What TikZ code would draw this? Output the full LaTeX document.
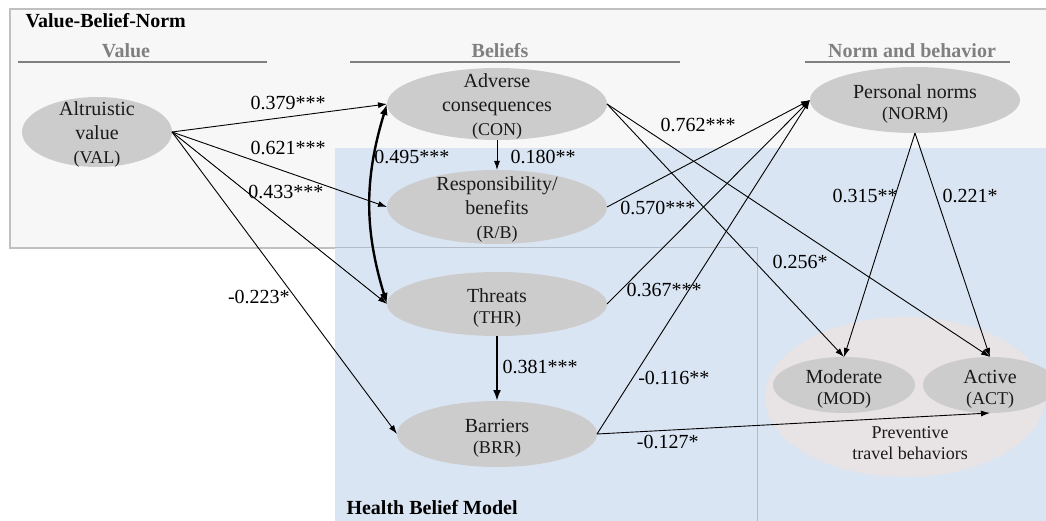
\documentclass[tikz,border=0pt]{standalone}
\usepackage{fontspec}
\setmainfont{Liberation Serif}
\usepackage{xcolor}
\usepackage{tikz}
\usetikzlibrary{positioning}
\usetikzlibrary{arrows.meta}
\usetikzlibrary{shapes.geometric}

\definecolor{vbnfill}{HTML}{F7F7F7}
\definecolor{vbnline}{HTML}{C0C0C0}
\definecolor{hbmfill}{HTML}{DAE5F3}
\definecolor{hbmline}{HTML}{B4BCC8}
\definecolor{ovalgray}{HTML}{CCCCCC}
\definecolor{ptbfill}{HTML}{E8E3E4}
\definecolor{headgray}{HTML}{808080}
\definecolor{textdark}{HTML}{1A1A1A}

\tikzset{conn/.style = {->, >={Latex[length=9pt,width=6pt]}, line width=0.9pt}}
\tikzset{bold conn/.style = {line width=2.4pt, >={Latex[length=11pt,width=8pt]}}}

% text inside the ellipses, kept out of the shape size
\newcommand{\ovaltext}[1]{\makebox[0pt]{\smash{\raisebox{-8pt}{\begin{tabular}{@{}c@{}}#1\end{tabular}}}}}
\newcommand{\abbr}[1]{{\fontsize{18}{24}\selectfont #1}}

\begin{document}
\begin{tikzpicture}[x=1pt,y=-1pt,
    oval/.style={ellipse,fill=ovalgray,inner sep=0pt,outer sep=0pt,text=textdark,font=\fontsize{20}{24}\selectfont},
    coef/.style={inner sep=1pt,text=black,font=\fontsize{20}{24}\selectfont},
    head/.style={anchor=base,text=headgray,font=\bfseries\fontsize{20}{24}\selectfont},
    headline/.style={headgray,line width=2pt}]
\useasboundingbox (0,0) rectangle (1046,521);

% frames
\fill[vbnfill] (10,9) rectangle (1046,248);
\fill[hbmfill] (335,148) rectangle (1046,521);
\draw[vbnline,line width=1.2pt] (1046,9) -- (10,9) -- (10,248) -- (335,248);
\draw[hbmline,line width=1pt] (335,248) -- (757,248) -- (757,521);

% headings
\node[anchor=base west,font=\bfseries\fontsize{20}{24}\selectfont] (vbn) at (22,28) {Value-Belief-Norm};
\node[head] (valhd) at (126,58) {Value};
\node[head] (belhd) at (500,58) {Beliefs};
\node[head] (norhd) at (912,58) {Norm and behavior};
\draw[headline] (18,62) -- (267,62);
\draw[headline] (350,62) -- (680,62);
\draw[headline] (805,62) -- (1010,62);
\node[anchor=base west,font=\bfseries\fontsize{20}{24}\selectfont] (hbm) at (343,514) {Health Belief Model};

% behaviour group
\node[ellipse,fill=ptbfill,minimum width=280pt,minimum height=160pt,inner sep=0pt] (ptb) at (905,397) {};
\node[align=center,text=textdark,font=\fontsize{18}{21}\selectfont] (ptbtxt) at (910,443) {Preventive\\travel behaviors};

% constructs
\node[oval,minimum width=150pt,minimum height=70pt] (val) at (97,132) {\ovaltext{Altruistic\\value\\\abbr{(VAL)}}};
\node[oval,minimum width=220pt,minimum height=72pt] (con) at (497,104) {\ovaltext{Adverse\\consequences\\\abbr{(CON)}}};
\node[oval,minimum width=220pt,minimum height=74pt] (rb) [below=30pt of con] {\ovaltext{Responsibility/\\benefits\\\abbr{(R/B)}}};
\node[oval,minimum width=220pt,minimum height=64pt] (thr) [below=28pt of rb] {\ovaltext{\raisebox{-3pt}{Threats}\\\abbr{(THR)}}};
\node[oval,minimum width=200pt,minimum height=66pt] (brr) [below=65pt of thr] {\ovaltext{\raisebox{-3pt}{Barriers}\\\abbr{(BRR)}}};
\node[oval,minimum width=210pt,minimum height=66pt] (norm) at (915,100) {\ovaltext{\raisebox{-3pt}{Personal norms}\\\abbr{(NORM)}}};
\node[oval,minimum width=142pt,minimum height=56pt] (mod) at (844,385) {\ovaltext{\raisebox{-3pt}{Moderate}\\\abbr{(MOD)}}};
\node[oval,minimum width=134pt,minimum height=56pt] (act) [right=8pt of mod] {\ovaltext{\raisebox{-3pt}{Active}\\\abbr{(ACT)}}};

\path[conn,every node/.style={coef}]
    (val.east) edge node[pos=.54,shift={(0,-14)}] {0.379***} (con.west)
    (val.east) edge node[pos=.54,shift={(0,-25)}] {0.621***} (rb.west)
    (val.east) edge node[pos=.53,shift={(0,-31)}] {0.433***} (thr.west)
    (val.east) edge node[pos=.546,shift={(-36,0)}] {-0.223*} (brr.west)
    (con.west) edge[<->,bold conn,bend right=17] node[pos=.5,shift={(42,-47)}] {0.495***} (thr.west)
    (con.south) edge node[pos=.5,shift={(46,2)}] {0.180**} (rb.north)
    (thr.south) edge[bold conn] node[pos=.5,shift={(43,-2)}] {0.381***} (brr.north)
    (rb.east) edge node[pos=.251,shift={(0,28)}] {0.570***} (norm.west)
    (thr.east) edge node[pos=.069,shift={(43,0)}] {0.367***} (norm.west)
    (brr.east) edge node[pos=.168,shift={(41,0)}] {-0.116**} (norm.west)
    (con.east) edge node[pos=.384,shift={(0,-76)}] {0.762***} (mod.north)
    (con.east) edge node[pos=.504,shift={(0,30)}] {0.256*} (act.north)
    (norm.south) edge node[pos=.28,shift={(-30,0)}] {0.315**} (mod.north)
    (norm.south) edge node[pos=.28,shift={(34,0)}] {0.221*} (act.north)
    (brr.east) edge node[pos=.18,shift={(0,12)}] {-0.127*} (act.south)
    ;
\end{tikzpicture}
\end{document}
